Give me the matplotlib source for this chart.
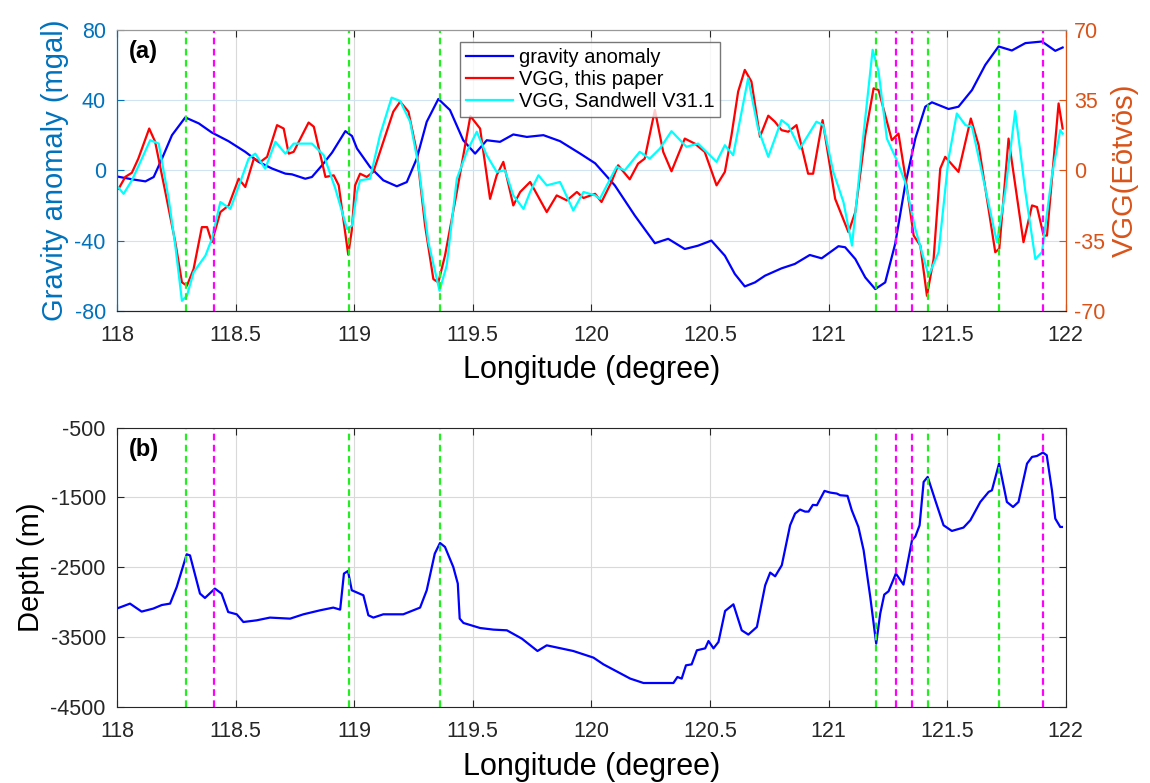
import matplotlib
matplotlib.use("Agg")
import matplotlib.pyplot as plt
from matplotlib.ticker import FormatStrFormatter

plt.rcParams['font.family'] = ['Liberation Sans', 'DejaVu Sans']
plt.rcParams['axes.unicode_minus'] = False

# ---- data ----
lon_grav = [118.0, 118.063, 118.12, 118.155, 118.19, 118.232, 118.288, 118.345, 118.40, 118.47,
            118.541, 118.597, 118.654, 118.71, 118.738, 118.794, 118.822, 118.865, 118.907, 118.963,
            118.991, 119.012, 119.067, 119.123, 119.18, 119.222, 119.264, 119.306, 119.355, 119.404,
            119.46, 119.51, 119.559, 119.615, 119.671, 119.728, 119.798, 119.868, 119.953, 120.016,
            120.099, 120.183, 120.268, 120.324, 120.394, 120.45, 120.506, 120.563, 120.605, 120.647,
            120.69, 120.732, 120.802, 120.858, 120.921, 120.971, 121.042, 121.07, 121.113, 121.155,
            121.197, 121.239, 121.281, 121.323, 121.366, 121.408, 121.436, 121.506, 121.548, 121.605,
            121.661, 121.717, 121.773, 121.83, 121.9, 121.956, 121.987]
grav = [-3.5, -5.1, -6.3, -3.8, 6.7, 20, 30.1, 26.7, 21.5, 16.6,
        10.5, 4.8, 1, -1.9, -2.3, -4.8, -3.8, 2.9, 10.1, 22.3,
        19.5, 12.4, 1.9, -5.7, -9.1, -6.7, 6.7, 27.6, 40.6, 34.3,
        17.1, 9.5, 17.1, 16.2, 20.4, 19, 20, 16.6, 9.5, 4.0,
        -8.6, -25.7, -41.5, -39, -44.8, -42.9, -40, -48.6, -59, -66.1,
        -63.8, -60, -55.8, -53.3, -48.2, -50.1, -43.2, -43.8, -50.5, -61,
        -67.6, -63.8, -41.9, -8.6, 18.1, 36.2, 38.7, 34.9, 36.2, 45.7,
        60, 70.5, 68.2, 72.4, 73.3, 68, 69.9]

lon_vgg = [118.007, 118.035, 118.063, 118.09, 118.136, 118.161, 118.204, 118.246, 118.274, 118.295,
           118.323, 118.358, 118.38, 118.40, 118.436, 118.471, 118.513, 118.541, 118.577, 118.605,
           118.633, 118.675, 118.703, 118.724, 118.745, 118.808, 118.83, 118.879, 118.914, 118.935,
           118.975, 118.99, 119.004, 119.025, 119.053, 119.081, 119.123, 119.165, 119.194, 119.229,
           119.264, 119.299, 119.334, 119.355, 119.383, 119.433, 119.468, 119.49, 119.531, 119.573,
           119.601, 119.629, 119.671, 119.70, 119.742, 119.812, 119.854, 119.897, 119.939, 119.967,
           120.016, 120.043, 120.085, 120.113, 120.162, 120.197, 120.225, 120.268, 120.303, 120.338,
           120.394, 120.436, 120.478, 120.528, 120.563, 120.591, 120.619, 120.647, 120.675, 120.711,
           120.746, 120.774, 120.802, 120.83, 120.865, 120.914, 120.935, 120.975, 121.028, 121.084,
           121.113, 121.155, 121.19, 121.211, 121.267, 121.295, 121.323, 121.359, 121.387, 121.415,
           121.443, 121.471, 121.492, 121.548, 121.6, 121.633, 121.703, 121.72, 121.759, 121.822,
           121.858, 121.879, 121.907, 121.921, 121.97, 121.987]
vgg = [-9.2, -3.3, -1.2, 5.8, 20.8, 14.2, -10.8, -35.8, -55.8, -57.5,
       -49.2, -28.3, -28.3, -35.8, -20.8, -17.5, -4.2, -8.3, 5.8, 4.2,
       6.7, 22.5, 20.8, 8.3, 9.2, 23.8, 21.7, -3.3, -2.5, -7.5,
       -42, -30, -7.5, -1.7, -3.3, -0.8, 14.2, 29.2, 34.2, 29.2,
       9.2, -27.5, -54.2, -55.8, -42.5, -10.8, 12.5, 27, 20.8, -14.2,
       -2.5, 4.2, -17.5, -10.8, -5.8, -20.8, -12.5, -15, -10.8, -13.8,
       -11.7, -15.8, -5.8, 2.5, -4.5, 3.3, 5.8, 30, 9.2, -0.5,
       15.8, 13.3, 9.2, -7.5, -0.8, 17.5, 39.2, 50, 44.2, 16.7,
       27.2, 24.2, 20, 19.2, 22.5, -1.7, -1.7, 25, -14.2, -30.8,
       -20.8, 17.5, 40.8, 40, 15, 18.3, -2.5, -32.5, -37.5, -62.5,
       -44.2, 0.8, 6.7, -0.8, 25.8, 12.5, -40.8, -39, 15.8, -35.8,
       -17.5, -18.3, -32.5, -32.5, 33.3, 20.8]

lon_sw = [118.007, 118.028, 118.063, 118.105, 118.14, 118.176, 118.218, 118.246, 118.274, 118.295,
          118.323, 118.373, 118.40, 118.436, 118.478, 118.52, 118.555, 118.583, 118.625, 118.668,
          118.71, 118.745, 118.822, 118.872, 118.921, 118.97, 118.991, 119.012, 119.025, 119.067,
          119.109, 119.158, 119.194, 119.236, 119.271, 119.313, 119.36, 119.39, 119.433, 119.475,
          119.517, 119.559, 119.601, 119.636, 119.671, 119.714, 119.742, 119.777, 119.812, 119.868,
          119.924, 119.967, 120.016, 120.036, 120.106, 120.141, 120.204, 120.246, 120.289, 120.338,
          120.401, 120.45, 120.528, 120.563, 120.598, 120.661, 120.703, 120.746, 120.802, 120.83,
          120.879, 120.949, 120.978, 121.02, 121.063, 121.099, 121.141, 121.186, 121.211, 121.246,
          121.288, 121.323, 121.366, 121.422, 121.464, 121.506, 121.541, 121.577, 121.605, 121.71,
          121.745, 121.787, 121.83, 121.872, 121.9, 121.942, 121.977, 121.987]
vgg_sw = [-8.7, -11.7, -5, 5.8, 15, 13.3, -14.2, -37.5, -65, -62.5,
          -50.8, -42.5, -34.2, -15.8, -19.2, -5.8, 5.8, 8.3, 0.8, 14.2,
          8.3, 13.3, 13.3, 7.5, -9.2, -29.2, -27.5, -10.8, -5, -4.2,
          17.5, 36.2, 34.5, 24.2, 2.5, -35.8, -60, -47.5, -4.2, 9.2,
          19.2, 7.5, -0.8, 0, -12.5, -19.2, -10.8, -2.5, -7.5, -5.8,
          -20, -10.8, -12.5, -14.2, 1.7, 0, 9.2, 5.8, 10.8, 19.5,
          11.7, 13.3, 4.2, 12.5, 7.5, 45.8, 20.8, 6.7, 25, 22.5,
          10.8, 24.2, 22.5, -0.8, -15.8, -37.5, 10.8, 60, 49.2, 15.8,
          5, -5.8, -29.2, -52.5, -40.8, 5.8, 28.3, 22.5, 21.7, -35.8,
          -10.8, 29.5, -10.8, -44.2, -40.8, -2.5, 20, 18.3]

lon_depth = [118.0, 118.055, 118.104, 118.153, 118.189, 118.224, 118.252, 118.294, 118.308, 118.35,
             118.371, 118.413, 118.441, 118.469, 118.505, 118.533, 118.589, 118.645, 118.73, 118.786,
             118.856, 118.912, 118.941, 118.957, 118.974, 118.99, 119.039, 119.06, 119.081, 119.123,
             119.207, 119.278, 119.306, 119.34, 119.362, 119.383, 119.418, 119.437, 119.445, 119.461,
             119.531, 119.587, 119.644, 119.707, 119.773, 119.812, 119.924, 120.009, 120.051, 120.164,
             120.22, 120.346, 120.363, 120.381, 120.399, 120.423, 120.445, 120.48, 120.494, 120.515,
             120.536, 120.564, 120.599, 120.634, 120.662, 120.698, 120.733, 120.754, 120.775, 120.803,
             120.838, 120.859, 120.88, 120.901, 120.916, 120.934, 120.951, 120.983, 121.007, 121.035,
             121.049, 121.08, 121.098, 121.126, 121.148, 121.176, 121.201, 121.218, 121.235, 121.253,
             121.284, 121.316, 121.352, 121.366, 121.384, 121.401, 121.418, 121.45, 121.485, 121.52,
             121.569, 121.598, 121.64, 121.675, 121.689, 121.719, 121.752, 121.778, 121.801, 121.837,
             121.858, 121.879, 121.904, 121.92, 121.942, 121.956, 121.977, 121.984]
depth = [-3090, -3020, -3134, -3091, -3040, -3020, -2782, -2314, -2330, -2876,
         -2939, -2805, -2876, -3140, -3173, -3283, -3259, -3220, -3235, -3173,
         -3116, -3077, -3106, -2590, -2553, -2829, -2901, -3187, -3220, -3173,
         -3173, -3077, -2829, -2304, -2152, -2209, -2496, -2733, -3234, -3297,
         -3369, -3392, -3402, -3521, -3698, -3617, -3698, -3793, -3889, -4093,
         -4156, -4156, -4070, -4093, -3903, -3889, -3688, -3660, -3555, -3660,
         -3569, -3125, -3030, -3402, -3463, -3354, -2758, -2576, -2629, -2471,
         -1899, -1731, -1674, -1703, -1703, -1607, -1612, -1407, -1431, -1445,
         -1469, -1478, -1684, -1923, -2256, -2925, -3592, -3163, -2891, -2844,
         -2590, -2748, -2113, -2060, -1899, -1279, -1207, -1541, -1899, -1980,
         -1932, -1827, -1565, -1422, -1398, -1016, -1565, -1637, -1565, -1016,
         -921, -907, -858, -897, -1398, -1803, -1923, -1923]

green_lon = [118.29, 118.98, 119.36, 121.20, 121.42, 121.72]
magenta_lon = [118.41, 121.285, 121.354, 121.905]

xticks = [118, 118.5, 119, 119.5, 120, 120.5, 121, 121.5, 122]

c_left = '#0072BD'
c_right = '#D95319'
c_axis = '#262626'

fig = plt.figure(figsize=(11.5, 7.83), dpi=100)

# ---------------- panel (a) ----------------
ax = fig.add_axes([0.1017, 0.603, 0.825, 0.359])
ax2 = ax.twinx()

ax.plot(lon_grav, grav, color='#0000ff', lw=1.6, label='gravity anomaly')
l1, = ax2.plot(lon_vgg, vgg, color='#ff0000', lw=1.6, label='VGG, this paper')
l2, = ax2.plot(lon_sw, vgg_sw, color='#00ffff', lw=1.6, label='VGG, Sandwell V31.1')
for g in green_lon:
    ax2.axvline(g, color='#22ee22', lw=1.6, ls=(0, (3, 2)))
for m in magenta_lon:
    ax2.axvline(m, color='#ff00ff', lw=1.6, ls=(0, (3, 2)))

ax.set_xlim(118, 122)
ax.set_ylim(-80, 80)
ax.set_yticks([-80, -40, 0, 40, 80])
ax2.set_ylim(-70, 70)
ax2.set_yticks([-70, -35, 0, 35, 70])
ax.set_xticks(xticks)
ax.xaxis.set_major_formatter(FormatStrFormatter('%g'))

ax.grid(True, axis='x', color='#d9d9d9', lw=0.8)
ax.grid(True, axis='y', color='#cfe3f2', lw=0.8)

ax.tick_params(axis='x', direction='in', top=True, labelsize=15.5, colors=c_axis, length=5, pad=10)
ax.tick_params(axis='y', direction='in', labelsize=15.5, colors=c_left, length=5, pad=8)
ax2.tick_params(axis='y', direction='in', labelsize=15.5, colors=c_right, length=5, pad=6)
ax.spines['left'].set_color(c_left)
ax2.spines['left'].set_color(c_left)
ax2.spines['right'].set_color(c_right)
for a in (ax, ax2):
    a.spines['top'].set_color('#999999')
    a.spines['bottom'].set_color(c_axis)

ax.set_xlabel('Longitude (degree)', fontsize=22, labelpad=7)
ax.set_ylabel('Gravity anomaly (mgal)', fontsize=21, color=c_left, labelpad=4)
ax2.set_ylabel('VGG(Eötvös)', fontsize=21, color=c_right, labelpad=4)
ax.text(0.013, 0.962, '(a)', transform=ax.transAxes, fontsize=17, fontweight='bold',
        va='top', ha='left')

handles = [ax.get_lines()[0], l1, l2]
leg = ax2.legend(handles, [h.get_label() for h in handles], loc='upper left',
                 bbox_to_anchor=(0.362, 0.958), fontsize=14.5, frameon=True, fancybox=False,
                 edgecolor='#555555', handlelength=2.3, handletextpad=0.3, labelspacing=0.15,
                 borderpad=0.3, borderaxespad=0)
leg.get_frame().set_linewidth(1.0)

# ---------------- panel (b) ----------------
bx = fig.add_axes([0.1017, 0.097, 0.825, 0.357])
bx.plot(lon_depth, depth, color='#0000ff', lw=1.6)
for g in green_lon:
    bx.axvline(g, color='#22ee22', lw=1.6, ls=(0, (3, 2)))
for m in magenta_lon:
    bx.axvline(m, color='#ff00ff', lw=1.6, ls=(0, (3, 2)))

bx.set_xlim(118, 122)
bx.set_ylim(-4500, -500)
bx.set_yticks([-4500, -3500, -2500, -1500, -500])
bx.set_xticks(xticks)
bx.xaxis.set_major_formatter(FormatStrFormatter('%g'))
bx.grid(True, color='#d9d9d9', lw=0.8)
bx.tick_params(direction='in', top=True, right=True, labelsize=15.5, colors=c_axis, length=5)
bx.tick_params(axis='x', pad=10)
bx.tick_params(axis='y', pad=8)
for s in bx.spines.values():
    s.set_color(c_axis)
bx.set_xlabel('Longitude (degree)', fontsize=22, labelpad=7)
bx.set_ylabel('Depth (m)', fontsize=21, labelpad=4)
bx.text(0.013, 0.962, '(b)', transform=bx.transAxes, fontsize=17, fontweight='bold',
        va='top', ha='left')

fig.savefig('out.png', dpi=100)
